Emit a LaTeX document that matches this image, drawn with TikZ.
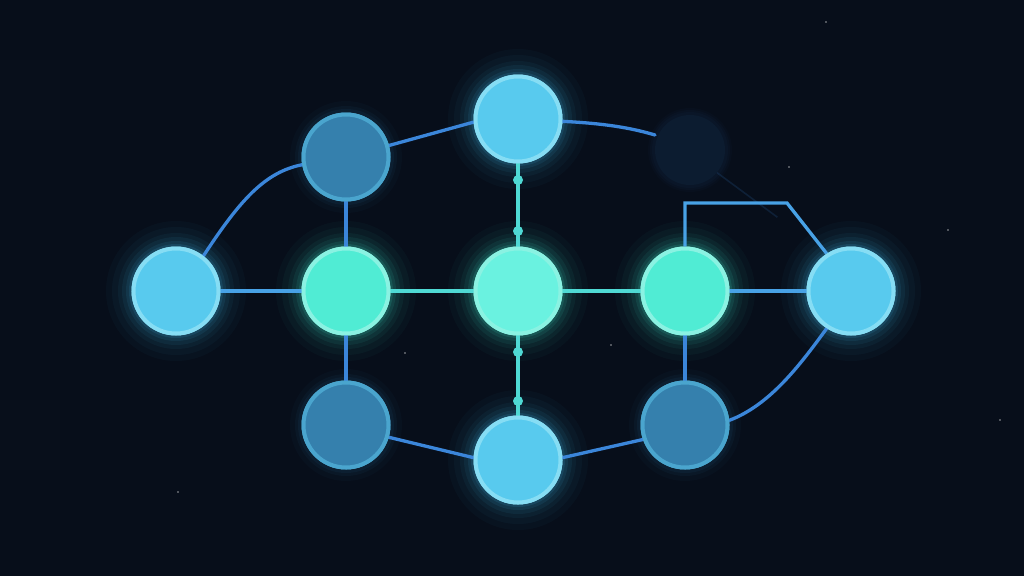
\documentclass[tikz,border=0pt]{standalone}
\usetikzlibrary{calc}
\definecolor{bg}{HTML}{070E1A}
\definecolor{lbfill}{HTML}{58CAEE}
\definecolor{lbring}{HTML}{86DDF4}
\definecolor{grfill}{HTML}{50ECD4}
\definecolor{grring}{HTML}{8AF2E2}
\definecolor{cfill}{HTML}{6AF2E0}
\definecolor{dkfill}{HTML}{3580AD}
\definecolor{dkring}{HTML}{4AA5CE}
\definecolor{fnfill}{HTML}{0C1C30}
\definecolor{blueline}{HTML}{3B86DA}
\definecolor{lbline}{HTML}{48A2E6}
\definecolor{cyline}{HTML}{4FD9D4}
\definecolor{glowlb}{HTML}{3FB8E8}
\definecolor{glowgr}{HTML}{3FE8CC}
\definecolor{glowdk}{HTML}{2E78A8}
\tikzset{
  nd/.style={circle, minimum size=85pt, inner sep=0pt, line width=4pt},
  lbnode/.style={nd, fill=lbfill, draw=lbring},
  grnode/.style={nd, fill=grfill, draw=grring},
  cnode/.style={nd, fill=cfill, draw=grring},
  dknode/.style={nd, fill=dkfill, draw=dkring},
  fnnode/.style={circle, minimum size=70pt, inner sep=0pt, fill=fnfill},
  edge/.style={line width=3.3pt, line cap=round},
  bedge/.style={edge, draw=blueline},
  ledge/.style={edge, draw=lbline},
  cedge/.style={edge, draw=cyline},
  dotnode/.style={circle, fill=cyline, minimum size=10pt, inner sep=0pt},
  star/.style={circle, fill=white!60!bg, minimum size=1.8pt, inner sep=0pt},
}
\newcommand{\glowat}[2]{%
  \foreach \r/\o in {70/0.03,64/0.04,58/0.05,54/0.07,50/0.09,47/0.12}{
    \fill[#2, opacity=\o] (#1) circle[radius=\r pt];
  }%
}
\begin{document}
\begin{tikzpicture}[x=1pt,y=-1pt]
\fill[bg] (0,0) rectangle (1024,576);
\useasboundingbox (0,0) rectangle (1024,576);
% faint background squares
\fill[white, opacity=0.006] (0,60) rectangle (60,130);
\fill[white, opacity=0.006] (0,400) rectangle (60,470);
% stars
\node[star] (s1) at (826,22) {};
\node[star] (s2) at (948,230) {};
\node[star] (s3) at (178,492) {};
\node[star] (s4) at (405,353) {};
\node[star] (s5) at (611,345) {};
\node[star] (s6) at (789,167) {};
\node[star] (s7) at (1000,420) {};
% glows
\glowat{176,291}{glowlb}
\glowat{851,291}{glowlb}
\glowat{518,119}{glowlb}
\glowat{518,460}{glowlb}
\glowat{346,291}{glowgr}
\glowat{518,291}{glowgr}
\glowat{685,291}{glowgr}
\foreach \p in {{346,157},{346,425},{685,425}}{
  \foreach \r/\o in {56/0.04,51/0.06,48/0.08}{
    \fill[glowdk, opacity=\o] (\p) circle[radius=\r pt];
  }
}
% faint node halo
\foreach \r/\o in {42/0.2,40/0.3,38/0.4}{
  \fill[fnfill, opacity=\o] (690,150) circle[radius=\r pt];
}
% nodes
\node[lbnode] (L) at (176,291) {};
\node[grnode] (ML) at (346,291) {};
\node[cnode] (C) at (518,291) {};
\node[grnode] (MR) at (685,291) {};
\node[lbnode] (R) at (851,291) {};
\node[dknode] (TL) at (346,157) {};
\node[lbnode] (T) at (518,119) {};
\node[fnnode] (F) at (690,150) {};
\node[dknode] (BL) at (346,425) {};
\node[lbnode] (B) at (518,460) {};
\node[dknode] (BR) at (685,425) {};
\coordinate (k1) at (685,203);
\coordinate (k2) at (787,203);
% edges
\draw[ledge] (L) -- (ML);
\draw[cedge] (ML) -- (C);
\draw[cedge] (C) -- (MR);
\draw[ledge] (MR) -- (R);
\draw[bedge] (ML) -- (TL);
\draw[bedge] (ML) -- (BL);
\draw[bedge] (MR) -- (BR);
\draw[cedge] (C) -- (T);
\draw[cedge] (C) -- (B);
\draw[bedge] (L.52) .. controls (240,200) and (265,172) .. (TL.190);
\draw[bedge] (TL.15) -- (T.184);
\draw[bedge] (T.357) .. controls (595,123) and (625,126) .. (655,135);
\draw[line width=1.6pt, draw=fnfill!75!blueline, opacity=0.45] (F.-40) -- ($(F.-40)!0.55!(R.123)$);
\draw[ledge, line cap=butt] (MR.north) -- (k1) -- (k2) -- (R.123);
\draw[bedge] (BL.344) -- (B.177);
\draw[bedge] (B.3) -- (BR.199);
\draw[bedge] (BR.6) .. controls (770,405) and (800,365) .. (R.237);
% redraw nodes on top
\node[lbnode] at (L) {};
\node[grnode] at (ML) {};
\node[cnode] at (C) {};
\node[grnode] at (MR) {};
\node[lbnode] at (R) {};
\node[dknode] at (TL) {};
\node[lbnode] at (T) {};
\node[dknode] at (BL) {};
\node[lbnode] at (B) {};
\node[dknode] at (BR) {};
% dots on vertical edges
\node[dotnode] (d1) at (518,180) {};
\node[dotnode] (d2) at (518,231) {};
\node[dotnode] (d3) at (518,352) {};
\node[dotnode] (d4) at (518,401) {};
\end{tikzpicture}
\end{document}
